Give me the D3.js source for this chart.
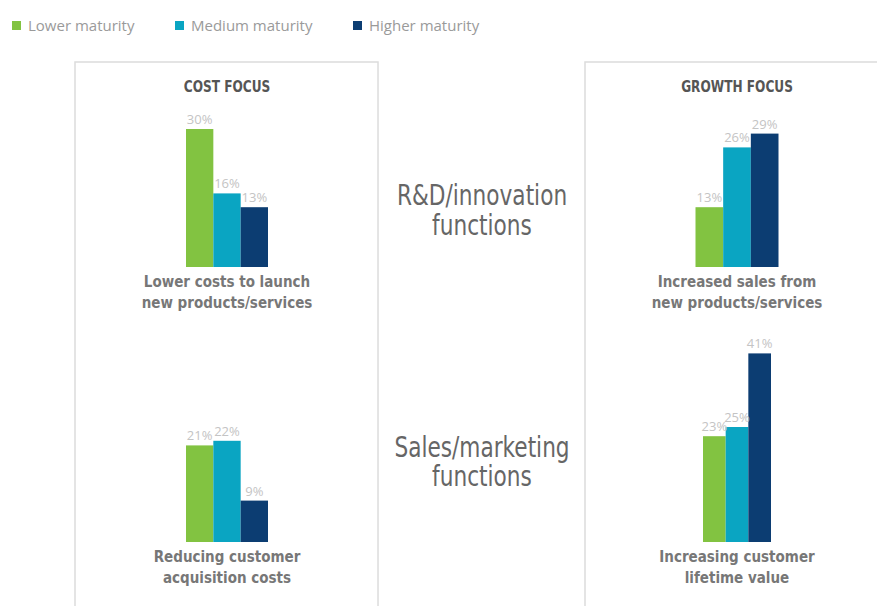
<!DOCTYPE html>
<html>
<head>
<meta charset="utf-8">
<script src="https://cdn.jsdelivr.net/npm/d3@7"></script>
<style>
  html, body { margin: 0; padding: 0; background: #fff; }
  svg { display: block; }
  .cond { font-family: "Liberation Sans Narrow", "DejaVu Sans Condensed", "Roboto Condensed", "Open Sans", sans-serif; font-stretch: condensed; }
</style>
</head>
<body>
<svg id="chart" width="877" height="606"></svg>
<script>
// Maturity levels (series) and their colours
const series = ["Lower maturity", "Medium maturity", "Higher maturity"];
const colors = ["#82c341", "#0aa5c2", "#0c3d72"];

// Focus columns and business-function rows
const focuses = ["COST FOCUS", "GROWTH FOCUS"];
const functionsRows = [["R&D/innovation", "functions"], ["Sales/marketing", "functions"]];

// Outcome labels, one per cell (row, column)
const outcomes = [
  [["Lower costs to launch", "new products/services"], ["Increased sales from", "new products/services"]],
  [["Reducing customer", "acquisition costs"], ["Increasing customer", "lifetime value"]]
];

// Share of respondents (%) per cell, in series order
const costRnD      = [30, 16, 13];
const growthRnD    = [13, 26, 29];
const costSales    = [21, 22, 9];
const growthSales  = [23, 25, 41];
const cellValues = [[costRnD, growthRnD], [costSales, growthSales]];

const svg = d3.select("#chart");

// Horizontally condensed text: the label is drawn at (x, y) and squeezed by sx
function condensedText(parent, x, y, sx, text) {
  return parent.append("g")
    .attr("transform", `translate(${x},${y}) scale(${sx},1)`)
    .append("text").attr("class", "cond")
    .attr("text-anchor", "middle").text(text);
}

// ---- Legend
const legendX = [12, 175, 353];
const legend = svg.append("g");
series.forEach((s, i) => {
  const g = legend.append("g").attr("transform", `translate(${legendX[i]},21)`);
  g.append("rect").attr("width", 9).attr("height", 9).attr("fill", colors[i]);
  g.append("text").attr("x", 16).attr("y", 10)
    .attr("font-family", "'Open Sans', sans-serif").attr("font-size", 15)
    .attr("fill", "#9a9a9a").text(s);
});

// ---- Panel frames
const colCenter = [227, 737];
svg.append("rect").attr("x", 75).attr("y", 62).attr("width", 303).attr("height", 560)
  .attr("fill", "none").attr("stroke", "#dcdcdc").attr("stroke-width", 1.5);
svg.append("rect").attr("x", 585).attr("y", 62).attr("width", 320).attr("height", 560)
  .attr("fill", "none").attr("stroke", "#dcdcdc").attr("stroke-width", 1.5);

// Panel titles
focuses.forEach((f, i) => {
  condensedText(svg, colCenter[i], 92, 0.9, f)
    .attr("font-size", 15).attr("font-weight", "bold").attr("fill", "#555");
});

// Row labels in the middle
const rowLabelBase = [[205, 235], [457, 486]];
functionsRows.forEach((lines, r) => {
  lines.forEach((t, k) => {
    condensedText(svg, 482, rowLabelBase[r][k], 0.86, t)
      .attr("font-size", 28).attr("fill", "#666");
  });
});

// ---- Bars
const baselines = [267, 542];
const groupWidth = [[82, 83], [82, 68]];
const y = d3.scaleLinear().domain([0, 100]).range([0, 460]);

cellValues.forEach((row, r) => {
  row.forEach((vals, c) => {
    const w = groupWidth[r][c];
    const x = d3.scaleBand().domain(series).range([colCenter[c] - w / 2, colCenter[c] + w / 2]).padding(0);
    const g = svg.append("g");
    g.selectAll("rect").data(vals).join("rect")
      .attr("x", (d, i) => x(series[i]))
      .attr("width", x.bandwidth())
      .attr("y", d => baselines[r] - y(d))
      .attr("height", d => y(d))
      .attr("fill", (d, i) => colors[i]);
    g.selectAll("text").data(vals).join("text")
      .attr("x", (d, i) => x(series[i]) + x.bandwidth() / 2)
      .attr("y", d => baselines[r] - y(d) - 5)
      .attr("text-anchor", "middle")
      .attr("font-family", "'Open Sans', sans-serif").attr("font-size", 13)
      .attr("fill", "#c4c4c4")
      .text(d => d + "%");
    // Outcome label under the bars
    outcomes[r][c].forEach((t, k) => {
      svg.append("text").attr("class", "cond")
        .attr("x", colCenter[c]).attr("y", baselines[r] + 20 + k * 21)
        .attr("text-anchor", "middle").attr("font-size", 15).attr("font-weight", "bold")
        .attr("fill", "#777").text(t);
    });
  });
});
</script>
</body>
</html>
